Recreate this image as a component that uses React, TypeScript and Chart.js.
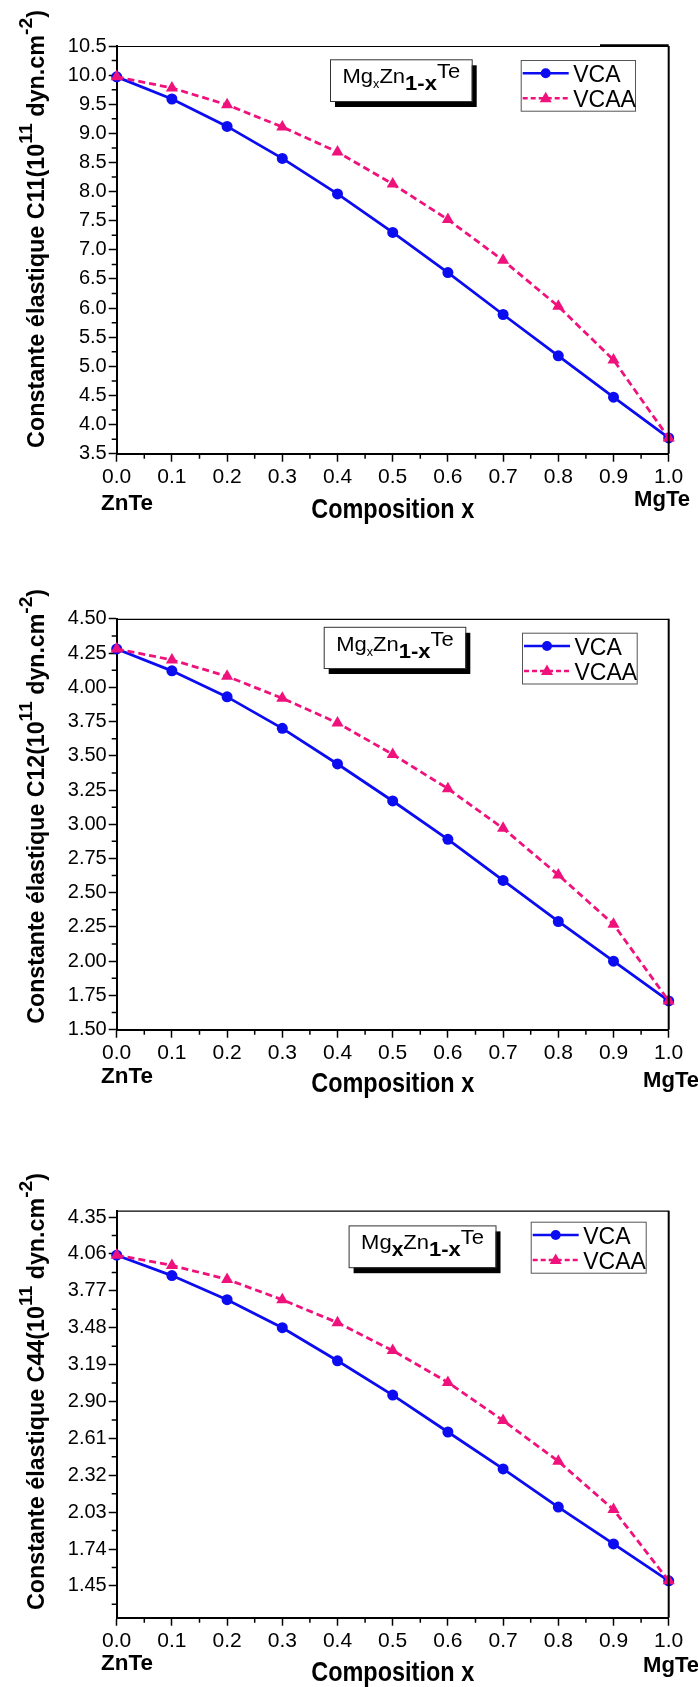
import React, { useEffect, useRef } from "react";
import { Chart, registerables } from "chart.js";

Chart.register(...registerables);

// ---------------- data ----------------
const compositionX = [0, 0.1, 0.2, 0.3, 0.4, 0.5, 0.6, 0.7, 0.8, 0.9, 1.0];
const xMajorTicks = [0, 0.1, 0.2, 0.3, 0.4, 0.5, 0.6, 0.7, 0.8, 0.9, 1.0];
const xMinorTicks = [0.05, 0.15, 0.25, 0.35, 0.45, 0.55, 0.65, 0.75, 0.85, 0.95];
const seriesNames = ["VCA", "VCAA"];

const c11VCA = [9.97, 9.59, 9.12, 8.57, 7.96, 7.3, 6.61, 5.89, 5.18, 4.47, 3.77];
const c11VCAA = [9.97, 9.78, 9.49, 9.11, 8.68, 8.13, 7.52, 6.82, 6.03, 5.11, 3.77];
const c11Ticks = [3.5, 4.0, 4.5, 5.0, 5.5, 6.0, 6.5, 7.0, 7.5, 8.0, 8.5, 9.0, 9.5, 10.0, 10.5];
const c11MinorTicks = [3.75, 4.25, 4.75, 5.25, 5.75, 6.25, 6.75, 7.25, 7.75, 8.25, 8.75, 9.25, 9.75, 10.25];

const c12VCA = [4.28, 4.12, 3.93, 3.7, 3.44, 3.17, 2.89, 2.59, 2.29, 2.0, 1.71];
const c12VCAA = [4.28, 4.2, 4.08, 3.92, 3.74, 3.51, 3.26, 2.97, 2.63, 2.27, 1.71];
const c12Ticks = [1.5, 1.75, 2.0, 2.25, 2.5, 2.75, 3.0, 3.25, 3.5, 3.75, 4.0, 4.25, 4.5];
const c12MinorTicks = [1.625, 1.875, 2.125, 2.375, 2.625, 2.875, 3.125, 3.375, 3.625, 3.875, 4.125, 4.375];

const c44VCA = [4.05, 3.89, 3.7, 3.48, 3.22, 2.95, 2.66, 2.37, 2.07, 1.78, 1.49];
const c44VCAA = [4.05, 3.97, 3.86, 3.7, 3.52, 3.3, 3.05, 2.75, 2.43, 2.05, 1.49];
const c44Ticks = [1.45, 1.74, 2.03, 2.32, 2.61, 2.9, 3.19, 3.48, 3.77, 4.06, 4.35];
const c44MinorTicks = [1.305, 1.595, 1.885, 2.175, 2.465, 2.755, 3.045, 3.335, 3.625, 3.915, 4.205];

// ---------------- style / layout ----------------
const FONT = "'Liberation Sans', Arial, Helvetica, sans-serif";
const BLUE = "#0c0cf0";
const PINK = "#f0127c";
const AREA_LEFT = 116.7;
const AREA_RIGHT = 668.7;
const PAGE_W = 698;

type Box = { x: number; y: number; w: number; h: number };
type Panel = {
  label: string;
  canvasTop: number;
  canvasHeight: number;
  areaTop: number;
  areaBottom: number;
  yMin: number;
  yMax: number;
  yTicks: number[];
  yMinor: number[];
  decimals: number;
  vca: number[];
  vcaa: number[];
  titleStart: number;
  titleEnd: number;
  annot: Box;
  bigX: boolean;
  legend: Box;
  znBase: number;
  mgX: number;
  mgBase: number;
  compBase: number;
  topExtra: boolean;
};

const panels: Panel[] = [
  {
    label: "C11", canvasTop: 0, canvasHeight: 560, areaTop: 46, areaBottom: 453.7,
    yMin: 3.5, yMax: 10.5, yTicks: c11Ticks, yMinor: c11MinorTicks, decimals: 1,
    vca: c11VCA, vcaa: c11VCAA, titleStart: 448, titleEnd: 10,
    annot: { x: 330, y: 59.3, w: 141.7, h: 41.7 }, bigX: false,
    legend: { x: 520.7, y: 60, w: 114.3, h: 50.7 },
    znBase: 509.5, mgX: 634, mgBase: 505.5, compBase: 518, topExtra: true,
  },
  {
    label: "C12", canvasTop: 560, canvasHeight: 580, areaTop: 618.8, areaBottom: 1029.7,
    yMin: 1.5, yMax: 4.5, yTicks: c12Ticks, yMinor: c12MinorTicks, decimals: 2,
    vca: c12VCA, vcaa: c12VCAA, titleStart: 1023.7, titleEnd: 589,
    annot: { x: 323.7, y: 626.8, w: 141.6, h: 41.2 }, bigX: false,
    legend: { x: 522, y: 632.7, w: 114.7, h: 50.8 },
    znBase: 1083, mgX: 643, mgBase: 1086.5, compBase: 1092, topExtra: false,
  },
  {
    label: "C44", canvasTop: 1140, canvasHeight: 547, areaTop: 1210.7, areaBottom: 1617.7,
    yMin: 1.2, yMax: 4.4, yTicks: c44Ticks, yMinor: c44MinorTicks, decimals: 2,
    vca: c44VCA, vcaa: c44VCAA, titleStart: 1610, titleEnd: 1173,
    annot: { x: 348.6, y: 1225.4, w: 146.9, h: 41.8 }, bigX: true,
    legend: { x: 530.7, y: 1221.7, w: 115, h: 51 },
    znBase: 1670, mgX: 643, mgBase: 1671.7, compBase: 1681, topExtra: false,
  },
];

type Part = { t: string; font: string; dy: number };

function drawParts(ctx: CanvasRenderingContext2D, parts: Part[], x: number, y: number, target?: number) {
  let total = 0;
  const ws = parts.map((p) => {
    ctx.font = p.font;
    const w = ctx.measureText(p.t).width;
    total += w;
    return w;
  });
  const sx = target ? target / total : 1;
  ctx.save();
  ctx.translate(x, y);
  ctx.scale(sx, 1);
  ctx.textBaseline = "alphabetic";
  ctx.textAlign = "left";
  let cx = 0;
  parts.forEach((p, i) => {
    ctx.font = p.font;
    ctx.fillText(p.t, cx, p.dy);
    cx += ws[i];
  });
  ctx.restore();
}

function drawMarker(ctx: CanvasRenderingContext2D, kind: string, x: number, y: number, color: string) {
  ctx.fillStyle = color;
  ctx.beginPath();
  if (kind === "circle") {
    ctx.arc(x, y, 5, 0, Math.PI * 2);
  } else {
    ctx.moveTo(x, y - 6.5);
    ctx.lineTo(x + 6, y + 4);
    ctx.lineTo(x - 6, y + 4);
    ctx.closePath();
  }
  ctx.fill();
}

function makeDecor(p: Panel) {
  return {
    id: "decor" + p.label,
    afterDraw(chart: any) {
      const ctx: CanvasRenderingContext2D = chart.ctx;
      const area = chart.chartArea;
      const xs = chart.scales.x;
      const ys = chart.scales.y;
      const off = p.canvasTop;
      ctx.save();
      ctx.strokeStyle = "#000";
      ctx.fillStyle = "#000";
      // top & right frame
      ctx.lineWidth = 1.2;
      ctx.beginPath();
      ctx.moveTo(area.left, area.top + 0.5);
      ctx.lineTo(area.right, area.top + 0.5);
      ctx.stroke();
      if (p.topExtra) {
        ctx.lineWidth = 2.5;
        ctx.beginPath();
        ctx.moveTo(600, area.top - 0.5);
        ctx.lineTo(area.right, area.top - 0.5);
        ctx.stroke();
      }
      ctx.lineWidth = 2;
      ctx.beginPath();
      ctx.moveTo(area.right, area.top);
      ctx.lineTo(area.right, area.bottom);
      ctx.stroke();
      // minor ticks
      ctx.lineWidth = 1.5;
      ctx.beginPath();
      xMinorTicks.forEach((v) => {
        const px = xs.getPixelForValue(v);
        ctx.moveTo(px, area.bottom);
        ctx.lineTo(px, area.bottom + 5);
      });
      p.yMinor.forEach((v) => {
        const py = ys.getPixelForValue(v);
        ctx.moveTo(area.left, py);
        ctx.lineTo(area.left - 5, py);
      });
      ctx.stroke();

      // y title (rotated)
      const L = p.titleStart - p.titleEnd;
      const cy = (p.titleStart + p.titleEnd) / 2 - off;
      ctx.save();
      ctx.translate(44, cy);
      ctx.rotate(-Math.PI / 2);
      const bf = `bold 23px ${FONT}`;
      const sf = `bold 19px ${FONT}`;
      drawParts(
        ctx,
        [
          { t: `Constante élastique ${p.label}(10`, font: bf, dy: 0 },
          { t: "11", font: sf, dy: -12 },
          { t: " dyn.cm", font: bf, dy: 0 },
          { t: "-2", font: sf, dy: -12 },
          { t: ")", font: bf, dy: 0 },
        ],
        -L / 2,
        0,
        L
      );
      ctx.restore();

      // ZnTe / MgTe / Composition x
      ctx.fillStyle = "#000";
      drawParts(ctx, [{ t: "ZnTe", font: `bold 22px ${FONT}`, dy: 0 }], 101, p.znBase - off, 52);
      drawParts(ctx, [{ t: "MgTe", font: `bold 22px ${FONT}`, dy: 0 }], p.mgX, p.mgBase - off, 56);
      const compW = 163;
      drawParts(
        ctx,
        [{ t: "Composition x", font: `bold 27px ${FONT}`, dy: 0 }],
        (area.left + area.right) / 2 - compW / 2,
        p.compBase - off,
        compW
      );

      // annotation box with shadow
      const a = p.annot;
      ctx.fillStyle = "#000";
      ctx.fillRect(a.x + 5, a.y - off + 6, a.w, a.h);
      ctx.fillStyle = "#fff";
      ctx.fillRect(a.x, a.y - off, a.w, a.h);
      ctx.strokeStyle = "#333";
      ctx.lineWidth = 1;
      ctx.strokeRect(a.x + 0.5, a.y - off + 0.5, a.w, a.h);
      ctx.fillStyle = "#000";
      const rf = `21px ${FONT}`;
      drawParts(
        ctx,
        [
          { t: "Mg", font: rf, dy: 0 },
          { t: "x", font: p.bigX ? `bold 20px ${FONT}` : `12px ${FONT}`, dy: p.bigX ? 7 : 5 },
          { t: "Zn", font: rf, dy: 0 },
          { t: "1-x", font: `bold 21px ${FONT}`, dy: 7 },
          { t: "Te", font: rf, dy: -5 },
        ],
        a.x + 12.5,
        a.y - off + 24,
        a.w - 24
      );

      // legend
      const lg = p.legend;
      ctx.fillStyle = "#fff";
      ctx.fillRect(lg.x, lg.y - off, lg.w, lg.h);
      ctx.strokeStyle = "#555";
      ctx.lineWidth = 1;
      ctx.strokeRect(lg.x + 0.5, lg.y - off + 0.5, lg.w, lg.h);
      const rows = [
        { name: seriesNames[0], color: BLUE, dash: [] as number[], marker: "circle" },
        { name: seriesNames[1], color: PINK, dash: [5, 3], marker: "triangle" },
      ];
      rows.forEach((r, i) => {
        const ry = lg.y - off + 13.3 + i * 25;
        ctx.strokeStyle = r.color;
        ctx.lineWidth = 2.5;
        ctx.setLineDash(r.dash);
        ctx.beginPath();
        ctx.moveTo(lg.x + 2, ry);
        ctx.lineTo(lg.x + 48, ry);
        ctx.stroke();
        ctx.setLineDash([]);
        drawMarker(ctx, r.marker, lg.x + 25, ry, r.color);
        ctx.fillStyle = "#000";
        drawParts(ctx, [{ t: r.name, font: `23px ${FONT}`, dy: 0 }], lg.x + 52.5, ry + 8.5);
      });
      ctx.restore();
    },
  };
}

function PanelChart({ p }: { p: Panel }) {
  const ref = useRef<HTMLCanvasElement | null>(null);
  useEffect(() => {
    if (!ref.current) return;
    const xAxisHeight = p.canvasHeight - (p.areaBottom - p.canvasTop);
    const chart = new Chart(ref.current, {
      type: "line",
      data: {
        datasets: [
          {
            label: seriesNames[0],
            data: compositionX.map((x, i) => ({ x, y: p.vca[i] })),
            borderColor: BLUE,
            backgroundColor: BLUE,
            borderWidth: 2.8,
            pointStyle: "circle",
            pointRadius: 5.5,
            pointBorderWidth: 0,
            pointBackgroundColor: BLUE,
            tension: 0,
            clip: false,
            order: 1,
          },
          {
            label: seriesNames[1],
            data: compositionX.map((x, i) => ({ x, y: p.vcaa[i] })),
            borderColor: PINK,
            backgroundColor: PINK,
            borderWidth: 2.8,
            borderDash: [7, 4],
            pointStyle: "triangle",
            pointRadius: 7,
            pointBorderWidth: 0,
            pointBackgroundColor: PINK,
            tension: 0,
            clip: false,
            order: 0,
          },
        ],
      },
      options: {
        responsive: false,
        animation: false,
        events: [],
        layout: {
          padding: { left: 0, top: p.areaTop - p.canvasTop, right: PAGE_W - AREA_RIGHT, bottom: 0 },
        },
        plugins: { legend: { display: false }, tooltip: { enabled: false }, title: { display: false } },
        scales: {
          x: {
            type: "linear",
            min: 0,
            max: 1,
            afterBuildTicks: (s: any) => {
              s.ticks = xMajorTicks.map((v) => ({ value: v }));
            },
            afterFit: (s: any) => {
              s.height = xAxisHeight;
            },
            ticks: {
              autoSkip: false,
              maxRotation: 0,
              color: "#000",
              padding: 3,
              font: { family: FONT, size: 21 },
              callback: (v: any) => Number(v).toFixed(1),
            },
            grid: { drawOnChartArea: false, drawTicks: true, tickLength: 8, tickWidth: 1.5, tickColor: "#000", color: "#000" },
            border: { display: true, color: "#000", width: 2 },
          },
          y: {
            type: "linear",
            min: p.yMin,
            max: p.yMax,
            afterBuildTicks: (s: any) => {
              s.ticks = p.yTicks.map((v) => ({ value: v }));
            },
            afterFit: (s: any) => {
              s.width = AREA_LEFT;
            },
            ticks: {
              autoSkip: false,
              color: "#000",
              padding: 2,
              font: { family: FONT, size: 20 },
              callback: (v: any) => Number(v).toFixed(p.decimals),
            },
            grid: { drawOnChartArea: false, drawTicks: true, tickLength: 8, tickWidth: 1.5, tickColor: "#000", color: "#000" },
            border: { display: true, color: "#000", width: 2 },
          },
        },
      } as any,
      plugins: [makeDecor(p)],
    });
    return () => chart.destroy();
  }, [p]);
  return (
    <canvas
      ref={ref}
      width={PAGE_W}
      height={p.canvasHeight}
      style={{ position: "absolute", left: 0, top: p.canvasTop, width: PAGE_W, height: p.canvasHeight, display: "block" }}
    />
  );
}

export default function App() {
  return (
    <div style={{ position: "absolute", left: 0, top: 0, width: PAGE_W, height: 1687, background: "#fff", overflow: "hidden" }}>
      {panels.map((p) => (
        <PanelChart key={p.label} p={p} />
      ))}
    </div>
  );
}
